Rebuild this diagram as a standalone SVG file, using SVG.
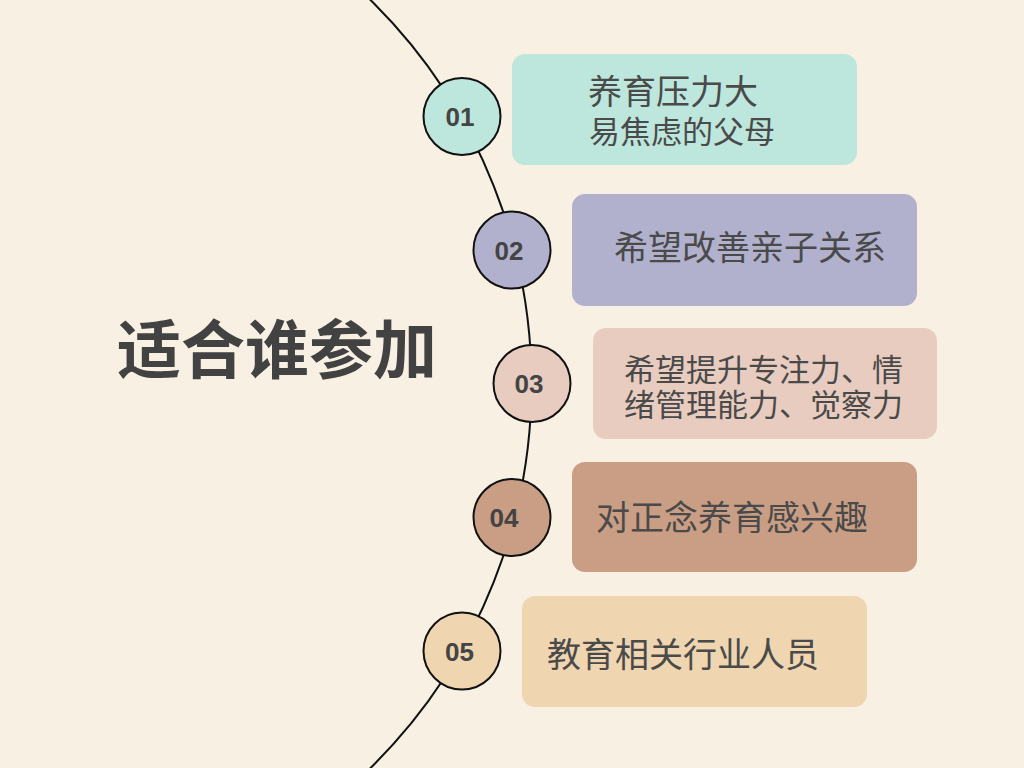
<svg xmlns="http://www.w3.org/2000/svg" width="1024" height="768" viewBox="0 0 1024 768">
<style>
.box{stroke:none}
.dot{stroke:#111;stroke-width:2}
.num{font-family:"Liberation Sans",Arial,sans-serif;font-weight:bold;font-size:26px;fill:#444;text-anchor:middle}
.lbl{font-family:"Noto Sans CJK SC","Noto Sans",sans-serif;font-size:34px;fill:#4a4a4a}
.title{font-family:"Noto Sans CJK SC","Noto Sans",sans-serif;font-weight:bold;font-size:64px;fill:#424242}
</style>
<rect x="0" y="0" width="1024" height="768" fill="#F8F0E2"/>
<g id="connectors">
<circle cx="-7" cy="384" r="538.5" fill="none" stroke="#111" stroke-width="2"/>
</g>
<g id="title"><text class="title" x="117" y="373">适合谁参加</text></g>
<g id="node1">
<rect class="box" x="512" y="54" width="345" height="111" rx="13" fill="#BDE6DC"/>
<circle class="dot" cx="462" cy="116.5" r="38.5" fill="#BDE6DC"/>
<text class="num" x="460" y="126">01</text>
<text class="lbl"><tspan x="588" y="104">养育压力大</tspan><tspan x="589" y="143" style="font-size:31px">易焦虑的父母</tspan></text>
</g>
<g id="node2">
<rect class="box" x="572" y="194" width="345" height="112" rx="13" fill="#B1B1CD"/>
<circle class="dot" cx="512" cy="250" r="38.5" fill="#B1B1CD"/>
<text class="num" x="509" y="260">02</text>
<text class="lbl" x="614" y="260">希望改善亲子关系</text>
</g>
<g id="node3">
<rect class="box" x="593" y="328" width="344" height="111" rx="13" fill="#E8CCC0"/>
<circle class="dot" cx="532" cy="383.5" r="38.5" fill="#E8CCC0"/>
<text class="num" x="529" y="393">03</text>
<text class="lbl" style="font-size:31px"><tspan x="624" y="381">希望提升专注力、情</tspan><tspan x="624" y="416">绪管理能力、觉察力</tspan></text>
</g>
<g id="node4">
<rect class="box" x="572" y="462" width="345" height="110" rx="13" fill="#C99E84"/>
<circle class="dot" cx="512" cy="517.5" r="38.5" fill="#C99E84"/>
<text class="num" x="504" y="527">04</text>
<text class="lbl" x="596" y="530">对正念养育感兴趣</text>
</g>
<g id="node5">
<rect class="box" x="522" y="596" width="345" height="111" rx="13" fill="#EFD5B0"/>
<circle class="dot" cx="462" cy="651" r="38.5" fill="#EFD5B0"/>
<text class="num" x="459.5" y="661">05</text>
<text class="lbl" x="547" y="667">教育相关行业人员</text>
</g>
</svg>
